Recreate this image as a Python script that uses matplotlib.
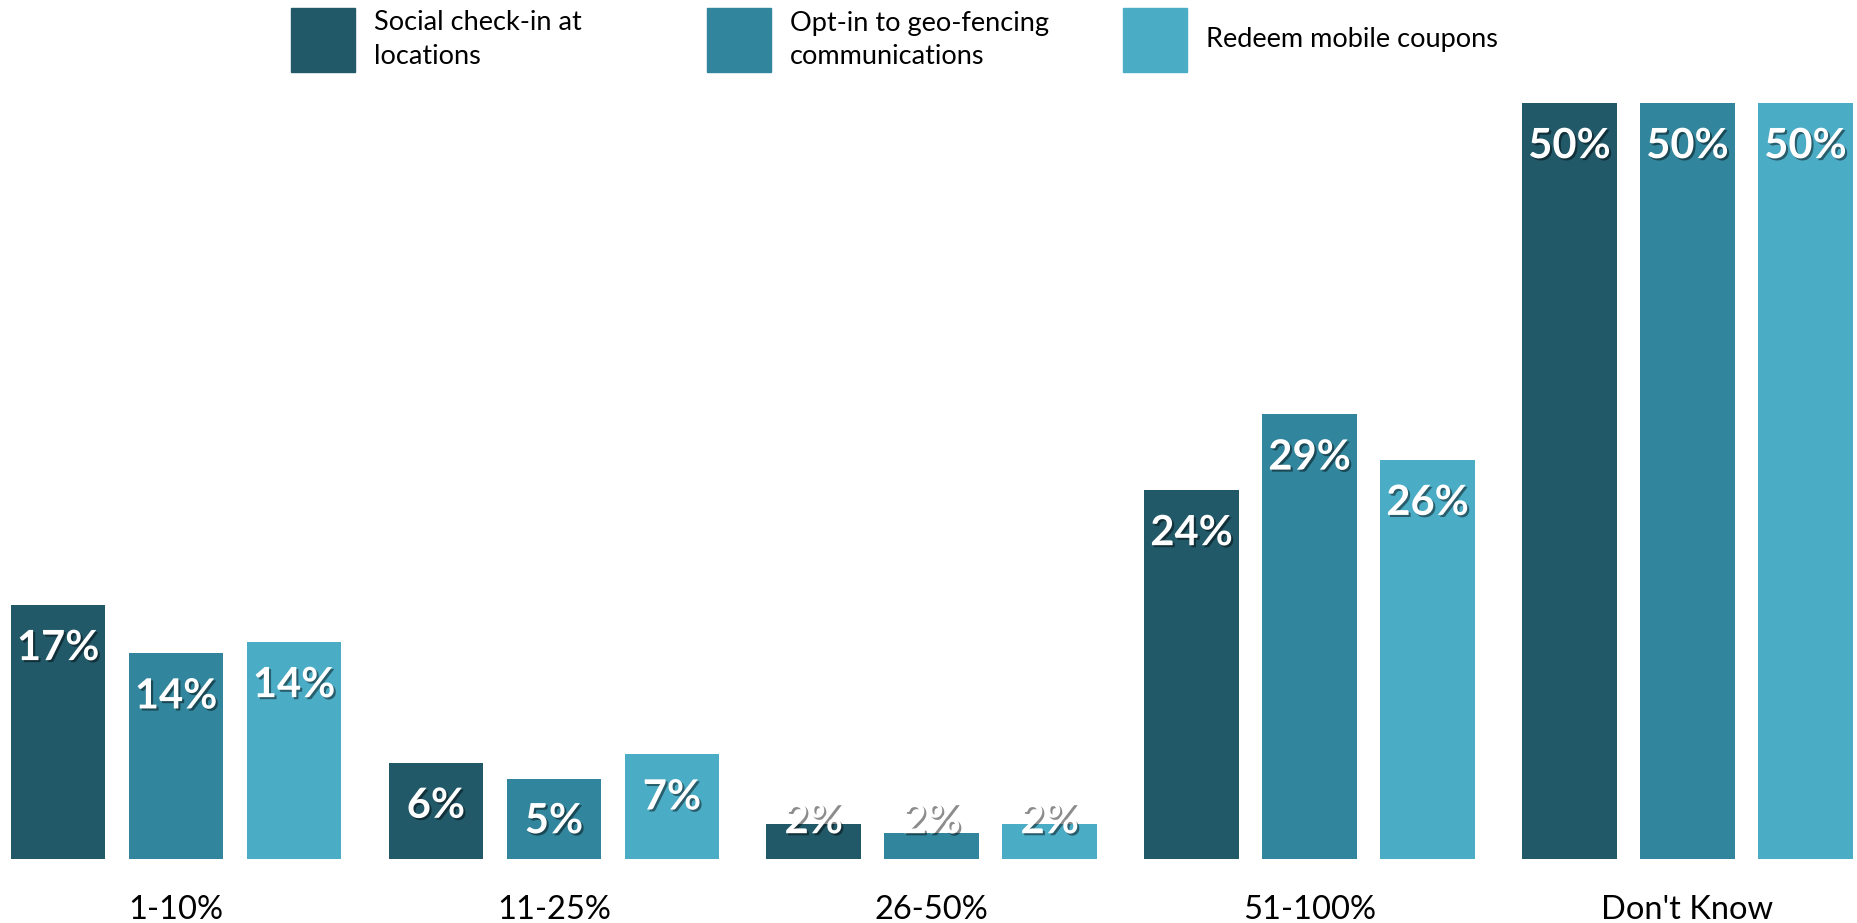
import numpy as np
import matplotlib
matplotlib.use("Agg")
import matplotlib.pyplot as plt
import matplotlib.patheffects as pe
from matplotlib.patches import Rectangle

# Data (percent of respondents)
CATEGORIES = ["1-10%", "11-25%", "26-50%", "51-100%", "Don't Know"]
SERIES = ["Social check-in at\nlocations",
          "Opt-in to geo-fencing\ncommunications",
          "Redeem mobile coupons"]
SOCIAL_CHECKIN = [16.8, 6.37, 2.3, 24.4, 50]
GEO_FENCING = [13.6, 5.27, 1.7, 29.4, 50]
MOBILE_COUPONS = [14.35, 6.92, 2.3, 26.4, 50]
COLORS = ["#215968", "#31859C", "#4BACC6"]

W, H = 1857, 923
plt.rcParams["font.family"] = ["Lato", "DejaVu Sans"]

fig = plt.figure(figsize=(W / 100, H / 100), dpi=100)
ax = fig.add_axes([0, 64 / H, 1, (859 - 103) / H])

x = np.arange(len(CATEGORIES))
step = 0.3123
width = 0.25
shadow = [pe.withSimplePatchShadow(offset=(1.5, -1.5), shadow_rgbFace="black", alpha=0.45)]

for i, values in enumerate([SOCIAL_CHECKIN, GEO_FENCING, MOBILE_COUPONS]):
    xs = x + (i - 1) * step
    ax.bar(xs, values, width=width, color=COLORS[i])
    for xi, v in zip(xs, values):
        # labels sit just inside the top of the bar, tiny bars keep a floor
        ax.text(xi, max(v - 2.85, 2.5), f"{round(v)}%", ha="center", va="center",
                color="white", fontsize=30, fontweight="bold", path_effects=shadow)

ax.set_xlim(-0.4659, 4.449)
ax.set_ylim(0, 50)
ax.set_xticks(x)
ax.set_xticklabels(CATEGORIES, fontsize=23.5)
ax.tick_params(axis="x", length=0, pad=26)
ax.set_yticks([])
for s in ax.spines.values():
    s.set_visible(False)

# legend across the top
for i, label in enumerate(SERIES):
    left = 291 + i * 416
    fig.add_artist(Rectangle((left / W, 1 - 72 / H), 64 / W, 64 / H,
                             transform=fig.transFigure, color=COLORS[i]))
    fig.text((left + 83) / W, 1 - 40 / H, label, ha="left", va="center",
             fontsize=19.5, linespacing=1.45)

fig.savefig("out.png", dpi=100)
